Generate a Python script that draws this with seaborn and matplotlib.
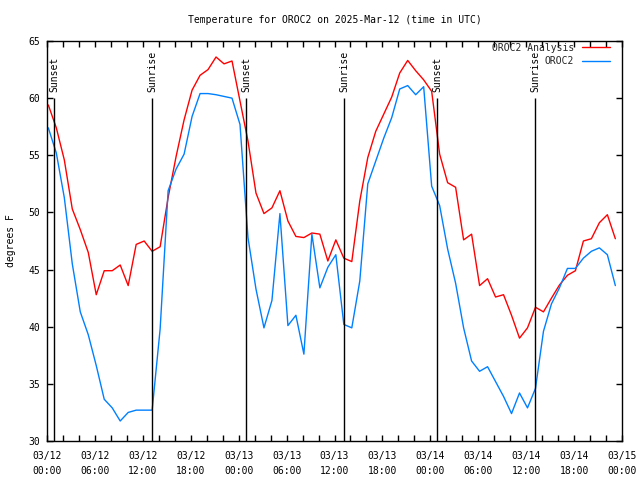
import matplotlib
matplotlib.use('Agg')
import matplotlib.pyplot as plt
import matplotlib.dates as mdates
import seaborn as sns
import pandas as pd

# gnuplot-like look: white background, black frame, inward ticks
sns.set_theme(style="ticks")
plt.rcParams['font.family'] = ['DejaVu Sans Mono', 'DejaVu Sans']

# --- data (hourly, first sample at 00:10 UTC) ---
START = '2025-03-12 00:10'
analysis_temp = [
    59.4, 57.4, 54.6, 50.3, 48.5, 46.5, 42.8, 44.9, 44.9, 45.4, 43.6, 47.2,
    47.5, 46.6, 47.0, 51.3, 54.9, 58.1, 60.7, 62.0, 62.5, 63.6, 63.0, 63.25,
    59.75, 56.25, 51.7, 49.9, 50.4, 51.9, 49.25, 47.9, 47.8, 48.2, 48.1, 45.75,
    47.6, 46.0, 45.7, 51.0, 54.8, 57.1, 58.6, 60.1, 62.2, 63.3, 62.4, 61.6,
    60.6, 55.1, 52.6, 52.2, 47.6, 48.1, 43.6, 44.2, 42.6, 42.8, 41.0, 39.0,
    39.9, 41.7, 41.3, 42.5, 43.65, 44.5, 44.9, 47.5, 47.7, 49.1, 49.8, 47.7,
]
obs_temp = [
    57.4, 55.2, 51.3, 45.5, 41.3, 39.3, 36.6, 33.65, 32.9, 31.75, 32.5, 32.7,
    32.7, 32.7, 39.8, 51.9, 53.8, 55.1, 58.4, 60.4, 60.4, 60.3, 60.15, 60.0,
    57.7, 47.8, 43.3, 39.9, 42.3, 49.9, 40.1, 41.0, 37.6, 48.1, 43.4, 45.2,
    46.3, 40.2, 39.9, 44.0, 52.5, 54.5, 56.5, 58.3, 60.8, 61.1, 60.3, 61.0,
    52.3, 50.6, 46.8, 43.8, 39.9, 37.0, 36.1, 36.5, 35.2, 33.9, 32.4, 34.2,
    32.9, 34.6, 39.6, 42.0, 43.4, 45.1, 45.1, 46.0, 46.6, 46.9, 46.3, 43.6,
]
sunset_times = ['2025-03-12 00:54', '2025-03-13 00:56', '2025-03-14 00:53']
sunrise_times = ['2025-03-12 13:12', '2025-03-13 13:13', '2025-03-14 13:09']

times = pd.date_range(START, periods=len(analysis_temp), freq='h')
df = pd.DataFrame({'time': times, 'analysis': analysis_temp, 'obs': obs_temp})

fig, ax = plt.subplots(figsize=(6.4, 4.8), dpi=100)
fig.subplots_adjust(left=47/640, right=622/640, bottom=1-441/480, top=1-41/480)

sns.lineplot(data=df, x='time', y='analysis', color='#ff0000', lw=1,
             label='OROC2 Analysis', ax=ax)
sns.lineplot(data=df, x='time', y='obs', color='#0080ff', lw=1,
             label='OROC2', ax=ax)

# sunrise / sunset markers
for name, tlist in [('Sunset', sunset_times), ('Sunrise', sunrise_times)]:
    for t in tlist:
        ts = pd.Timestamp(t)
        ax.vlines(ts, 30, 60, color='black', lw=1)
        ax.text(ts, 60.5, name, rotation=90, ha='center', va='bottom',
                fontsize=7, color='black')

ax.set_xlim(pd.Timestamp('2025-03-12'), pd.Timestamp('2025-03-15'))
ax.set_ylim(30, 65)
ax.set_yticks(range(30, 66, 5))

major = pd.date_range('2025-03-12', '2025-03-15', freq='6h')
ax.set_xticks(major, [t.strftime('%m/%d\n%H:%M') for t in major])
for lab in ax.get_xticklabels():
    lab.set_linespacing(1.6)
ax.xaxis.set_minor_locator(mdates.HourLocator(byhour=range(0, 24, 2)))

ax.tick_params(which='both', direction='in', top=True, right=True,
               length=4, width=1, color='black', labelsize=7,
               labelcolor='black')
ax.tick_params(axis='x', which='major', pad=7)
ax.tick_params(axis='y', which='major', pad=5)
for sp in ax.spines.values():
    sp.set_color('black')
    sp.set_linewidth(1)

ax.set_xlabel('')
ax.set_ylabel('degrees F', fontsize=7, color='black', labelpad=9)
ax.set_title('Temperature for OROC2 on 2025-Mar-12 (time in UTC)',
             fontsize=7, color='black', pad=13)

ax.legend(loc='upper right', bbox_to_anchor=(0.979, 0.996), frameon=False,
          markerfirst=False, fontsize=7, handlelength=2.9, handletextpad=0.8,
          labelspacing=0.35, borderpad=0, borderaxespad=0)

plt.savefig('out.png', dpi=100)
